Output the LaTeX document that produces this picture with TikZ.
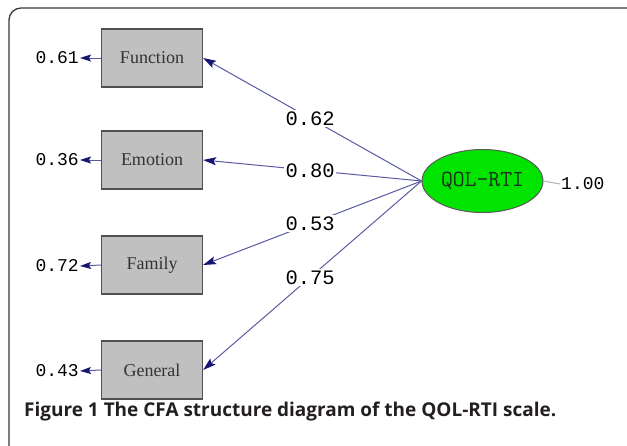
\documentclass[tikz,border=0pt]{standalone}
\usepackage{fontspec}
\setmainfont{Liberation Serif}
\newfontfamily\monofont{Liberation Mono}
\newfontfamily\capfont{Open Sans}
\usetikzlibrary{arrows.meta,shapes.geometric}
\definecolor{boxgray}{HTML}{C0C0C0}
\definecolor{boxedge}{HTML}{505050}
\definecolor{lineblue}{HTML}{5A5AA5}
\definecolor{headblue}{HTML}{161670}
\definecolor{latgreen}{HTML}{00E400}
\definecolor{txtgreen}{HTML}{1C321C}
\definecolor{framecol}{HTML}{3A3A3A}
\definecolor{captxt}{HTML}{231F20}
\tikzset{
  obs/.style={draw=boxedge, fill=boxgray, line width=1.2pt, minimum width=101pt, minimum height=58pt, inner sep=0pt, text=black!80, font=\fontsize{18}{20}\selectfont},
  lat/.style={ellipse, draw=black!65, fill=latgreen, line width=1pt, minimum width=121pt, minimum height=63pt, inner sep=0pt, text=txtgreen, font=\ttfamily\fontsize{23}{25}\selectfont},
  load/.style={draw=lineblue, line width=1pt, -{Stealth[length=13pt, width=8pt, inset=2.5pt, color=headblue]}},
  errarr/.style={draw=lineblue, line width=1pt, -{Stealth[length=11pt, width=7pt, inset=2pt, color=headblue]}},
  lbl/.style={fill=white, inner sep=1.5pt, font=\monofont\fontsize{20.5}{22}\selectfont, text=black},
  errlbl/.style={inner sep=1pt, font=\monofont\fontsize{18}{20}\selectfont, text=black},
  framebox/.style={draw=framecol, line width=1.3pt, rounded corners=12pt}
}
\begin{document}
\begin{tikzpicture}[x=1pt,y=-1pt]
\useasboundingbox (0,0) rectangle (627,445);
\fill[white] (0,0) rectangle (627,445);
\begin{scope}
\clip (0,0) rectangle (627,445);
\draw[framebox] (9,8) rectangle (642,460);
\end{scope}

\node[obs] (fun) at (152,58) {Function};
\node[obs] (emo) at (152,160) {Emotion};
\node[obs] (fam) at (152,265) {Family};
\node[obs] (gen) at (152,370) {General};

\node[lat] (q) at (482.5,181) {QOL-RTI};

\node[errlbl, anchor=east] (e1) at (80,58) {0.61};
\node[errlbl, anchor=east] (e2) at (80,160) {0.36};
\node[errlbl, anchor=east] (e3) at (80,266) {0.72};
\node[errlbl, anchor=east] (e4) at (80,371) {0.43};

\draw[errarr] (fun.west) -- (e1.east);
\draw[errarr] (emo.west) -- (e2.east);
\draw[errarr] (fam.west) -- (e3.east);
\draw[errarr] (gen.west) -- (e4.east);

\draw[load] (q.west) -- node[lbl, pos=0.51] {0.62} (fun.east);
\draw[load] (q.west) -- node[lbl, pos=0.51] {0.80} (emo.east);
\draw[load] (q.west) -- node[lbl, pos=0.51] {0.53} (fam.east);
\draw[load] (q.west) -- node[lbl, pos=0.51] {0.75} (gen.east);

\node[errlbl, anchor=west] (v) at (560,184) {1.00};
\draw[draw=black!30, line width=1pt] (q.east) -- (v.west);

\node[anchor=west, inner sep=0pt, text=captxt] (cap) at (24,412) {\resizebox{532pt}{!}{\capfont\bfseries Figure 1 The CFA structure diagram of the QOL-RTI scale.}};
\end{tikzpicture}
\end{document}
